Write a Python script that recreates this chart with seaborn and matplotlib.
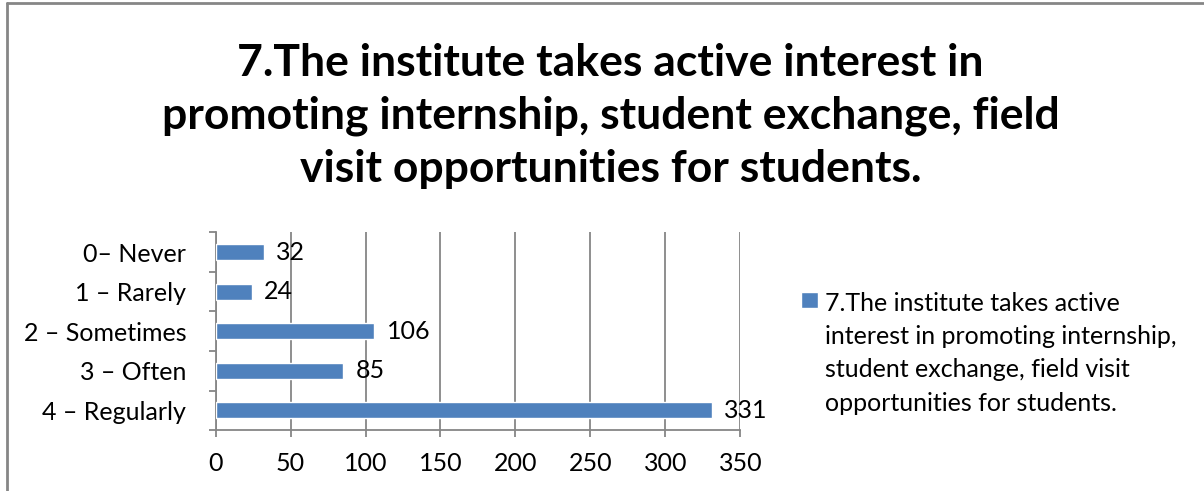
import matplotlib
matplotlib.use("Agg")
import matplotlib.pyplot as plt
from matplotlib.lines import Line2D
from matplotlib.ticker import FixedLocator
import seaborn as sns

categories = ["0\u2013 Never", "1 \u2013 Rarely", "2 \u2013 Sometimes", "3 \u2013 Often", "4 \u2013 Regularly"]
counts = [32, 24, 106, 85, 331]
title = "7.The institute takes active interest in\npromoting internship, student exchange, field\nvisit opportunities for students."
legend_label = "7.The institute takes active\ninterest in promoting internship,\nstudent exchange, field visit\nopportunities for students."
xticks = [0, 50, 100, 150, 200, 250, 300, 350]

sns.set_theme(style="white")
plt.rcParams["font.family"] = ["Lato", "DejaVu Sans"]
plt.rcParams["text.color"] = "black"

grey = "#868686"
blue = "#4F81BD"

fig = plt.figure(figsize=(12.04, 4.91), dpi=100)
ax = fig.add_axes([0.179, 0.124, 0.436, 0.403])

sns.barplot(x=counts, y=categories, orient="h", color=blue, saturation=1,
            width=0.4, ax=ax, zorder=3)

ax.set_xlim(0, 350)
ax.xaxis.set_major_locator(FixedLocator(xticks))
ax.set_xlabel("")
ax.set_ylabel("")
ax.grid(axis="x", color=grey, linewidth=1.3, zorder=0)
ax.grid(axis="y", visible=False)

for side in ["top", "right"]:
    ax.spines[side].set_visible(False)
for side in ["left", "bottom"]:
    ax.spines[side].set_color(grey)
    ax.spines[side].set_linewidth(1.3)

ax.tick_params(axis="x", bottom=True, length=5, width=1.3, color=grey,
               labelsize=18, pad=11, labelcolor="black")
ax.tick_params(axis="y", which="major", left=False, length=0, labelsize=18,
               pad=21, labelcolor="black")
ax.yaxis.set_minor_locator(FixedLocator([i + 0.5 for i in range(-1, len(categories))]))
ax.tick_params(axis="y", which="minor", left=True, length=5, width=1.3, color=grey)

for i, v in enumerate(counts):
    ax.annotate(str(v), (v, i), xytext=(9, 0), textcoords="offset points",
                ha="left", va="center", fontsize=18, color="black")

fig.text(0.507, 0.764, title, ha="center", va="center", fontsize=32,
         fontweight="bold", linespacing=1.38)

leg = fig.legend([ax.patches[0]], [legend_label], loc="upper left",
                 bbox_to_anchor=(0.647, 0.452), frameon=False, fontsize=18,
                 handlelength=0.65, handleheight=0.65, handletextpad=0.3,
                 borderpad=0.4)
leg.get_texts()[0].set_linespacing(1.55)
# put the marker next to the first line of the wrapped label
for col in leg._legend_handle_box.get_children():
    for row in col.get_children():
        row.align = "top"

fig.add_artist(Line2D([0.006, 1.0], [0.994, 0.994], transform=fig.transFigure,
                      color=grey, linewidth=2))
fig.add_artist(Line2D([0.006, 0.006], [0.0, 0.994], transform=fig.transFigure,
                      color=grey, linewidth=2))

fig.savefig("out.png", dpi=100, facecolor="white")
